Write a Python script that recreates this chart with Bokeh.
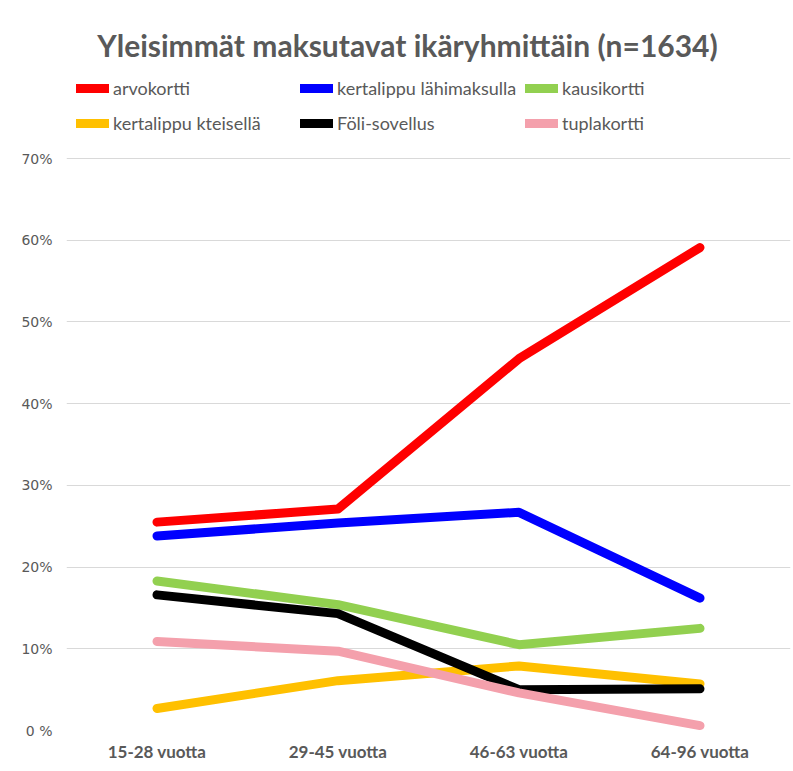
from bokeh.plotting import figure
from bokeh.models import FactorRange, Range1d, FixedTicker, Legend, LegendItem, Label
from bokeh.embed import file_html
from bokeh.resources import INLINE

categories = ["15-28 vuotta", "29-45 vuotta", "46-63 vuotta", "64-96 vuotta"]
arvokortti = [25.5, 27.1, 45.5, 59.1]
kertalippu_lahimaksulla = [23.8, 25.4, 26.7, 16.2]
kausikortti = [18.3, 15.4, 10.5, 12.5]
kertalippu_kteisella = [2.7, 6.1, 7.9, 5.7]
foli_sovellus = [16.6, 14.3, 5.0, 5.1]
tuplakortti = [10.9, 9.7, 4.6, 0.6]
y_ticks = [0, 10, 20, 30, 40, 50, 60, 70]
y_tick_labels = ["0 %", "10%", "20%", "30%", "40%", "50%", "60%", "70%"]

series = [
    ("arvokortti", arvokortti, "#FF0000"),
    ("kertalippu lähimaksulla", kertalippu_lahimaksulla, "#0000FF"),
    ("kausikortti", kausikortti, "#92D050"),
    ("kertalippu kteisellä", kertalippu_kteisella, "#FFC000"),
    ("Föli-sovellus", foli_sovellus, "#000000"),
    ("tuplakortti", tuplakortti, "#F4A0AC"),
]

FONT = "Lato"
GREY = "#595959"

# frame spans the whole height so that the title and legend (drawn inside) are not clipped;
# only the 0..70 % part carries gridlines
W, H = 793, 771
BORDER_LEFT, BORDER_RIGHT, BORDER_BOTTOM = 66, 3, 41
plot_top_px = 158  # where 70 % sits
frame_h = H - BORDER_BOTTOM
px_per_unit = (frame_h - plot_top_px) / 70.0
y_top = frame_h / px_per_unit

p = figure(
    width=W, height=H,
    x_range=FactorRange(*categories, range_padding=0),
    y_range=Range1d(0, y_top),
    output_backend="svg", toolbar_location=None,
    min_border_left=BORDER_LEFT, min_border_right=BORDER_RIGHT,
    min_border_top=0, min_border_bottom=BORDER_BOTTOM,
    background_fill_color="white", border_fill_color="white",
)
p.outline_line_color = None

renderers = {}
for name, vals, col in series:
    r = p.line(categories, vals, line_color=col, line_width=9,
               line_cap="round", line_join="round")
    renderers[name] = r

# axes
p.xaxis.axis_line_color = None
p.xaxis.major_tick_line_color = None
p.xaxis.minor_tick_line_color = None
p.xaxis.major_label_text_font = FONT
p.xaxis.major_label_text_font_style = "bold"
p.xaxis.major_label_text_font_size = "17px"
p.xaxis.major_label_text_color = GREY
p.xaxis.major_label_standoff = 4

p.yaxis.ticker = FixedTicker(ticks=y_ticks)
p.yaxis.major_label_overrides = {t: l for t, l in zip(y_ticks, y_tick_labels)}
p.yaxis.axis_line_color = None
p.yaxis.major_tick_line_color = None
p.yaxis.minor_tick_line_color = None
p.yaxis.major_label_text_font = "DejaVu Sans"
p.yaxis.major_label_text_font_size = "14px"
p.yaxis.major_label_text_color = GREY
p.yaxis.major_label_standoff = 8

p.xgrid.grid_line_color = None
p.ygrid.grid_line_color = "#D9D9D9"
p.ygrid.grid_line_width = 1

# title
p.add_layout(Label(x=341, y=frame_h - 44, x_units="screen", y_units="screen",
                   text="Yleisimmät maksutavat ikäryhmittäin (n=1634)",
                   text_font=FONT, text_font_style="bold", text_font_size="30px",
                   text_color=GREY, text_align="center", text_baseline="middle"))

# legend: three columns of two rows
columns = [["arvokortti", "kertalippu kteisellä"],
           ["kertalippu lähimaksulla", "Föli-sovellus"],
           ["kausikortti", "tuplakortti"]]
col_x = [10, 234, 459]
for names, cx in zip(columns, col_x):
    leg = Legend(items=[LegendItem(label=n, renderers=[renderers[n]]) for n in names],
                 location=(cx, frame_h - 134), orientation="vertical",
                 glyph_width=33, glyph_height=20, label_height=20, spacing=13,
                 padding=0, margin=0, label_standoff=4,
                 label_text_font=FONT, label_text_font_size="18px",
                 label_text_color=GREY, border_line_color=None,
                 background_fill_alpha=0)
    p.add_layout(leg, "center")

open("out.html", "w").write(file_html(p, INLINE))
